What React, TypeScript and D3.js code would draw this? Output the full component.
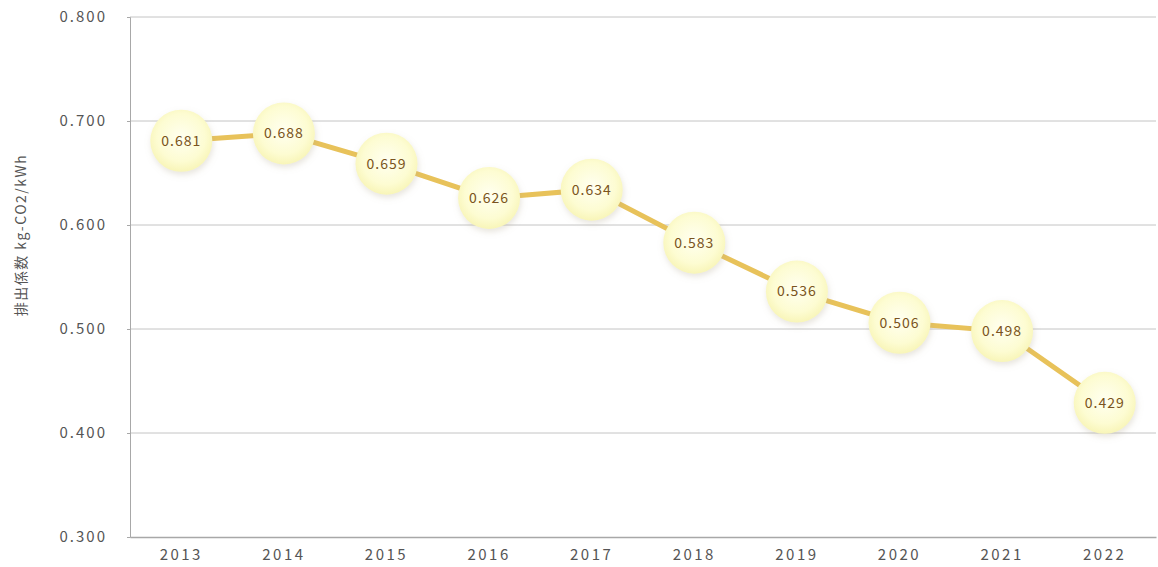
import React, { useRef, useEffect } from 'react';
import * as d3 from 'd3';

const years = ['2013', '2014', '2015', '2016', '2017', '2018', '2019', '2020', '2021', '2022'];
const factors = [0.681, 0.688, 0.659, 0.626, 0.634, 0.583, 0.536, 0.506, 0.498, 0.429];
const yTicks = [0.3, 0.4, 0.5, 0.6, 0.7, 0.8];
const yTitle = '排出係数  kg-CO2/kWh';

const App = () => {
  const svgRef = useRef<SVGSVGElement>(null);

  useEffect(() => {
    if (!svgRef.current) return;
    const width = 1158;
    const height = 567;
    const margin = { top: 17, right: 2, bottom: 30, left: 130 };
    const font = '"Noto Sans CJK JP", "Noto Sans", sans-serif';

    const svg = d3.select(svgRef.current)
      .attr('width', width)
      .attr('height', height)
      .attr('viewBox', `0 0 ${width} ${height}`);
    svg.selectAll('*').remove();

    const x = d3.scaleBand<string>()
      .domain(years)
      .range([margin.left, width - margin.right]);
    const y = d3.scaleLinear()
      .domain([0.3, 0.8])
      .range([height - margin.bottom, margin.top]);

    const defs = svg.append('defs');
    const grad = defs.append('radialGradient').attr('id', 'bubble')
      .attr('cx', '50%').attr('cy', '45%').attr('r', '55%');
    grad.append('stop').attr('offset', '0%').attr('stop-color', '#fffff0');
    grad.append('stop').attr('offset', '70%').attr('stop-color', '#fdfcd2');
    grad.append('stop').attr('offset', '100%').attr('stop-color', '#f8f5b8');
    const shadow = defs.append('filter').attr('id', 'shadow')
      .attr('x', '-40%').attr('y', '-40%').attr('width', '180%').attr('height', '180%');
    shadow.append('feDropShadow')
      .attr('dx', 1).attr('dy', 3).attr('stdDeviation', 3)
      .attr('flood-color', '#b0a890').attr('flood-opacity', 0.3);

    // grid
    svg.append('g')
      .selectAll('line')
      .data(yTicks.slice(1))
      .join('line')
      .attr('x1', margin.left)
      .attr('x2', width - margin.right)
      .attr('y1', d => y(d))
      .attr('y2', d => y(d))
      .attr('stroke', '#c4c4c4')
      .attr('stroke-width', 1);

    // axes
    const yAxis = svg.append('g')
      .attr('transform', `translate(${margin.left},0)`)
      .call(d3.axisLeft(y).tickValues(yTicks).tickFormat(d3.format('.3f')).tickSize(3).tickPadding(20));
    yAxis.select('.domain').attr('stroke', '#a8a8a8');
    yAxis.selectAll('.tick line').attr('stroke', '#a8a8a8');
    yAxis.selectAll('text')
      .attr('fill', '#555')
      .attr('font-size', 15)
      .attr('letter-spacing', 2)
      .attr('font-family', font);

    const xAxis = svg.append('g')
      .attr('transform', `translate(0,${height - margin.bottom})`)
      .call(d3.axisBottom(x).tickSize(0).tickPadding(12));
    xAxis.select('.domain').attr('stroke', '#a8a8a8').attr('stroke-width', 1.5);
    xAxis.selectAll('text')
      .attr('fill', '#555')
      .attr('font-size', 15)
      .attr('letter-spacing', 2.5)
      .attr('font-family', font);

    // y title
    svg.append('text')
      .attr('transform', `translate(26,235) rotate(-90)`)
      .attr('text-anchor', 'middle')
      .attr('fill', '#555')
      .attr('font-size', 14)
      .attr('letter-spacing', 1.5)
      .attr('font-family', font)
      .text(yTitle);

    const cx = (i: number) => (x(years[i]) ?? 0) + x.bandwidth() / 2;

    // line
    const line = d3.line<number>()
      .x((_, i) => cx(i))
      .y(d => y(d));
    svg.append('path')
      .datum(factors)
      .attr('fill', 'none')
      .attr('stroke', '#e8c25a')
      .attr('stroke-width', 5)
      .attr('d', line);

    // bubbles
    const pts = svg.append('g')
      .selectAll('g')
      .data(factors)
      .join('g')
      .attr('transform', (d, i) => `translate(${cx(i)},${y(d)})`);
    pts.append('circle')
      .attr('r', 31)
      .attr('fill', 'url(#bubble)')
      .attr('filter', 'url(#shadow)');
    pts.append('text')
      .attr('text-anchor', 'middle')
      .attr('dy', '0.35em')
      .attr('fill', '#7a5420')
      .attr('font-size', 14)
      .attr('letter-spacing', 1)
      .attr('font-family', font)
      .text(d => d.toFixed(3));
  }, []);

  return <svg ref={svgRef} style={{ position: 'absolute', left: 0, top: 0, display: 'block' }} />;
};

export default App;
